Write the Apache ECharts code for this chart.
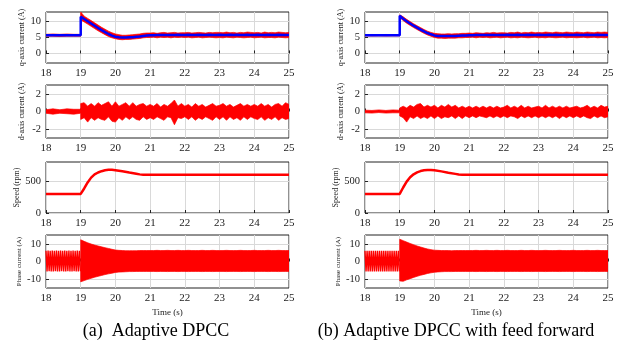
<!DOCTYPE html>
<html>
<head>
<meta charset="utf-8">
<script src="https://cdn.jsdelivr.net/npm/echarts@6/dist/echarts.min.js"></script>
<style>html,body{margin:0;padding:0;background:#fff}#c{width:622px;height:341px}</style>
</head>
<body>
<div id="c"></div>
<script>
// ---------- DATA ----------
var xTicks = [18, 19, 20, 21, 22, 23, 24, 25];
var qTicks = [0, 5, 10];
var dTicks = [-2, 0, 2];
var sTicks = [0, 500];
var pTicks = [-10, 0, 10];

var T = [18.0,18.2,18.4,18.6,18.8,19.0,
  19.0,19.1,19.2,19.3,19.4,19.5,19.6,19.7,19.8,19.9,
  20.0,20.1,20.2,20.3,20.4,20.5,20.6,20.7,20.8,20.9,
  21.0,21.1,21.2,21.3,21.4,21.5,21.6,21.7,21.8,21.9,
  22.0,22.1,22.2,22.3,22.4,22.5,22.6,22.7,22.8,22.9,
  23.0,23.1,23.2,23.3,23.4,23.5,23.6,23.7,23.8,23.9,
  24.0,24.1,24.2,24.3,24.4,24.5,24.6,24.7,24.8,24.9,
  25.0];

// (a) q-axis current: reference (blue) and measured band (red)
var qA_ref = [5.7,5.7,5.7,5.7,5.7,5.7,
  11.5,10.8,10.1,9.4,8.7,8.0,7.3,6.7,6.1,5.6,
  5.25,5.05,5.0,5.0,5.05,5.1,5.2,5.3,5.5,5.6,
  5.7,5.7,5.75,5.75,5.8,5.8,5.8,5.8,5.85,5.8,
  5.8,5.85,5.8,5.8,5.85,5.8,5.8,5.85,5.8,5.8,
  5.85,5.8,5.8,5.85,5.8,5.85,5.8,5.8,5.85,5.8,
  5.8,5.85,5.8,5.8,5.85,5.8,5.8,5.85,5.8,5.8,
  5.8];
var qA_hi = [6.0,6.1,6.0,6.1,6.0,6.0,
  13.0,11.7,11.0,10.3,9.6,8.9,8.2,7.6,7.0,6.5,
  6.1,5.9,5.7,5.7,5.8,5.9,6.0,6.1,6.3,6.4,
  6.4,6.5,6.3,6.5,6.6,6.4,6.5,6.6,6.4,6.5,
  6.5,6.6,6.4,6.5,6.6,6.5,6.4,6.6,6.5,6.6,
  6.6,6.5,6.7,6.5,6.6,6.4,6.6,6.5,6.7,6.6,
  6.5,6.6,6.4,6.7,6.5,6.6,6.5,6.7,6.6,6.5,
  6.6];
var qA_lo = [5.4,5.4,5.3,5.4,5.4,5.4,
  10.5,9.9,9.2,8.5,7.8,7.1,6.5,5.9,5.3,4.9,
  4.6,4.4,4.3,4.4,4.4,4.5,4.6,4.7,4.9,5.0,
  5.0,5.1,4.9,5.1,5.0,5.1,4.9,5.1,5.0,5.1,
  5.0,5.1,4.9,5.0,5.1,4.9,5.0,5.1,5.0,4.9,
  5.0,4.9,5.1,5.0,4.9,5.1,5.0,4.9,5.0,5.1,
  4.9,5.0,5.1,4.9,5.0,5.0,4.9,5.1,5.0,4.9,
  5.0];

// (b) q-axis current
var qB_ref = [5.7,5.7,5.7,5.7,5.7,5.7,
  11.8,10.9,10.1,9.4,8.7,8.1,7.5,6.9,6.4,6.0,
  5.65,5.5,5.45,5.45,5.45,5.5,5.5,5.55,5.6,5.65,
  5.7,5.7,5.75,5.75,5.8,5.8,5.8,5.8,5.8,5.8,
  5.8,5.85,5.8,5.8,5.85,5.8,5.8,5.85,5.8,5.8,
  5.85,5.8,5.8,5.85,5.8,5.85,5.8,5.8,5.85,5.8,
  5.8,5.85,5.8,5.8,5.85,5.8,5.8,5.85,5.8,5.8,
  5.8];
var qB_hi = [5.9,5.95,5.9,5.95,5.9,5.9,
  12.1,11.5,10.7,10.0,9.3,8.7,8.1,7.5,7.0,6.6,
  6.3,6.2,6.1,6.1,6.2,6.1,6.2,6.2,6.3,6.3,
  6.4,6.3,6.5,6.4,6.3,6.5,6.4,6.6,6.4,6.5,
  6.5,6.4,6.6,6.5,6.7,6.4,6.6,6.5,6.7,6.5,
  6.6,6.5,6.7,6.6,6.5,6.7,6.6,6.5,6.7,6.6,
  6.5,6.7,6.6,6.5,6.7,6.6,6.5,6.7,6.6,6.7,
  6.6];
var qB_lo = [5.5,5.45,5.5,5.45,5.5,5.5,
  11.3,10.3,9.5,8.8,8.1,7.5,6.9,6.3,5.8,5.4,
  5.0,4.8,4.8,4.7,4.8,4.8,4.8,4.9,4.9,5.0,
  5.0,5.1,4.9,5.1,5.0,5.1,4.9,5.0,5.1,4.9,
  5.0,5.1,4.9,5.0,4.9,5.1,5.0,4.9,5.0,5.1,
  4.9,5.0,4.9,5.1,5.0,4.9,5.0,5.1,4.9,5.0,
  5.0,4.9,5.0,5.1,4.9,5.0,5.1,4.9,5.0,4.9,
  5.0];

// d-axis current bands
var dA_hi = [0.2,0.3,0.2,0.3,0.25,0.25,
  0.9,1.0,0.6,0.9,0.6,1.0,0.7,0.9,1.1,0.6,
  1.1,0.6,0.8,1.0,0.6,1.0,0.6,0.8,0.9,0.6,
  0.8,0.6,0.9,0.5,0.8,0.6,0.9,1.3,0.6,0.9,
  0.6,0.8,0.5,0.9,0.6,0.8,0.5,0.7,0.9,0.6,
  0.7,0.9,0.6,0.8,0.5,0.7,0.9,0.6,0.8,0.6,
  0.8,0.6,0.9,0.6,0.8,0.5,0.8,0.9,0.6,1.0,
  0.8];
var dA_lo = [-0.2,-0.3,-0.2,-0.25,-0.3,-0.2,
  -0.9,-0.7,-1.2,-0.7,-1.0,-0.7,-0.9,-1.0,-0.6,-1.1,
  -1.2,-0.7,-1.0,-0.6,-0.9,-0.6,-0.9,-1.0,-0.6,-0.9,
  -0.7,-0.9,-0.6,-0.8,-1.0,-0.6,-0.7,-1.5,-0.7,-0.8,
  -0.6,-0.9,-0.6,-1.0,-0.7,-0.9,-0.6,-0.8,-1.0,-0.6,
  -0.9,-0.6,-1.0,-0.6,-0.9,-0.7,-1.0,-0.6,-0.9,-0.6,
  -0.8,-0.9,-0.6,-1.0,-0.7,-0.9,-0.6,-1.0,-0.7,-0.9,
  -0.8];
var dB_hi = [0.15,0.12,0.18,0.12,0.18,0.15,
  0.4,0.6,0.4,0.7,0.5,0.8,0.9,0.5,0.7,0.5,
  0.7,0.4,0.7,0.5,0.8,0.5,0.7,0.4,0.6,0.4,
  0.6,0.4,0.6,0.4,0.6,0.4,0.6,0.4,0.6,0.4,
  0.5,0.7,0.4,0.6,0.4,0.7,0.4,0.6,0.4,0.5,
  0.6,0.4,0.7,0.4,0.6,0.4,0.6,0.4,0.6,0.4,
  0.5,0.6,0.4,0.5,0.7,0.4,0.6,0.4,0.7,0.5,
  0.6];
var dB_lo = [-0.15,-0.18,-0.12,-0.18,-0.15,-0.15,
  -0.5,-0.7,-1.2,-0.6,-0.8,-0.5,-0.8,-0.6,-0.8,-0.5,
  -0.8,-0.5,-0.8,-0.6,-0.7,-0.5,-0.8,-0.5,-0.8,-0.5,
  -0.7,-0.5,-0.7,-0.5,-0.6,-0.7,-0.5,-0.7,-0.5,-0.7,
  -0.5,-0.7,-0.5,-0.6,-0.8,-0.5,-0.7,-0.5,-0.7,-0.5,
  -0.7,-0.5,-0.7,-0.5,-0.7,-0.5,-0.8,-0.5,-0.7,-0.5,
  -0.7,-0.5,-0.7,-0.5,-0.7,-0.8,-0.5,-0.7,-0.5,-0.7,
  -0.6];

// Speed (rpm)
var tS = [18, 19, 19.1, 19.2, 19.3, 19.4, 19.5, 19.6, 19.7, 19.8, 19.9, 20.0, 20.2, 20.4, 20.6, 20.7, 20.8, 25];
var spA = [300, 300, 385, 480, 555, 605, 635, 656, 670, 677, 677, 672, 656, 636, 617, 606, 600, 600];
var spB = [300, 300, 400, 492, 560, 607, 638, 658, 670, 676, 675, 669, 653, 633, 614, 604, 600, 600];

// Phase current: oscillation before the step, envelope after it
var tZ = [18.00,18.03,18.06,18.09,18.12,18.15,18.18,18.21,18.24,18.27,18.30,18.33,18.36,18.39,18.42,18.45,18.48,
  18.51,18.54,18.57,18.60,18.63,18.66,18.69,18.72,18.75,18.78,18.81,18.84,18.87,18.90,18.93,18.96,18.99];
var zA = [6.1,-5.6,6.2,-5.5,6.1,-5.6,6.2,-5.6,6.1,-5.5,6.2,-5.6,6.1,-5.6,6.2,-5.5,6.1,
  -5.6,6.2,-5.6,6.1,-5.5,6.2,-5.6,6.1,-5.6,6.2,-5.5,6.1,-5.6,6.2,-5.6,6.1,-5.5];
var zB = [6.0,-5.7,6.1,-5.6,6.0,-5.7,6.1,-5.7,6.0,-5.6,6.1,-5.7,6.0,-5.7,6.1,-5.6,6.0,
  -5.7,6.1,-5.7,6.0,-5.6,6.1,-5.7,6.0,-5.7,6.1,-5.6,6.0,-5.7,6.1,-5.7,6.0,-5.6];
var pA_hi = [12.3,11.4,10.6,9.9,9.3,8.8,8.3,7.8,7.4,6.9,
  6.5,6.3,6.2,6.1,6.1,6.1,6.1,6.2,6.2,6.2,
  6.2,6.2,6.3,6.2,6.2,6.3,6.2,6.2,6.3,6.2,
  6.2,6.3,6.2,6.2,6.2,6.3,6.2,6.2,6.3,6.2,
  6.2,6.2,6.3,6.2,6.2,6.2,6.3,6.2,6.2,6.2,
  6.3,6.2,6.2,6.2,6.3,6.2,6.2,6.3,6.2,6.2,
  6.2];
var pA_lo = [-11.5,-10.8,-10.1,-9.5,-8.9,-8.4,-7.9,-7.4,-7.0,-6.6,
  -6.2,-6.0,-5.9,-5.8,-5.7,-5.7,-5.6,-5.6,-5.6,-5.6,
  -5.6,-5.6,-5.7,-5.6,-5.6,-5.7,-5.6,-5.6,-5.7,-5.6,
  -5.6,-5.7,-5.6,-5.6,-5.6,-5.7,-5.6,-5.6,-5.7,-5.6,
  -5.6,-5.6,-5.7,-5.6,-5.6,-5.6,-5.7,-5.6,-5.6,-5.6,
  -5.7,-5.6,-5.6,-5.6,-5.7,-5.6,-5.6,-5.7,-5.6,-5.6,
  -5.6];
var pB_hi = [12.6,11.8,11.0,10.2,9.5,8.8,8.2,7.6,7.1,6.7,
  6.4,6.3,6.2,6.2,6.2,6.1,6.2,6.2,6.2,6.2,
  6.2,6.2,6.3,6.2,6.2,6.3,6.2,6.2,6.3,6.2,
  6.2,6.3,6.2,6.2,6.2,6.3,6.2,6.2,6.3,6.2,
  6.2,6.2,6.3,6.2,6.2,6.2,6.3,6.2,6.2,6.2,
  6.3,6.2,6.2,6.2,6.3,6.2,6.2,6.3,6.2,6.2,
  6.2];
var pB_lo = [-11.0,-11.2,-10.4,-9.7,-9.0,-8.4,-7.8,-7.3,-6.8,-6.4,
  -6.1,-5.9,-5.8,-5.7,-5.7,-5.7,-5.6,-5.6,-5.6,-5.6,
  -5.6,-5.6,-5.7,-5.6,-5.6,-5.7,-5.6,-5.6,-5.7,-5.6,
  -5.6,-5.7,-5.6,-5.6,-5.6,-5.7,-5.6,-5.6,-5.7,-5.6,
  -5.6,-5.6,-5.7,-5.6,-5.6,-5.6,-5.7,-5.6,-5.6,-5.6,
  -5.7,-5.6,-5.6,-5.6,-5.7,-5.6,-5.6,-5.7,-5.6,-5.6,
  -5.6];

var captionA = '(a)  Adaptive DPCC';
var captionB = '(b) Adaptive DPCC with feed forward';
// ---------- CHART ----------
var FONT = 'Liberation Serif, Times New Roman, serif';
var RED = '#ff0000', BLUE = '#0000ff';
var colLeft = [46, 365];
var rows = [{top: 12, h: 51}, {top: 85, h: 53}, {top: 162, h: 51}, {top: 235, h: 53}];
var grids = [], xAxes = [], yAxes = [], series = [];
var yDefs = [
  {min: -3, max: 13, ticks: qTicks, name: 'q-axis current (A)', ns: 8},
  {min: -3, max: 3, ticks: dTicks, name: 'd-axis current (A)', ns: 8},
  {min: 0, max: 800, ticks: sTicks, name: 'Speed (rpm)', ns: 8},
  {min: -15, max: 15, ticks: pTicks, name: 'Phase current (A)', ns: 7}
];
for (var c = 0; c < 2; c++) {
  for (var r = 0; r < 4; r++) {
    var gi = c * 4 + r;
    grids.push({left: colLeft[c], top: rows[r].top, width: 243, height: rows[r].h,
      show: true, borderColor: '#222', borderWidth: 1, backgroundColor: 'transparent'});
    xAxes.push({type: 'value', gridIndex: gi, min: 18, max: 25, interval: 1,
      axisLine: {show: false},
      axisTick: {show: true, inside: true, length: 3, lineStyle: {color: '#222'}},
      axisLabel: {fontFamily: FONT, fontSize: 11, color: '#222', margin: 5},
      splitLine: {show: true, lineStyle: {color: '#d9d9d9', width: 1}},
      name: r === 3 ? 'Time (s)' : '', nameLocation: 'middle', nameGap: 20,
      nameTextStyle: {fontFamily: FONT, fontSize: 9, color: '#222'}});
    var yd = yDefs[r];
    yAxes.push({type: 'value', gridIndex: gi, min: yd.min, max: yd.max,
      axisLine: {show: false},
      axisTick: {show: true, inside: true, length: 3, customValues: yd.ticks, lineStyle: {color: '#222'}},
      axisLabel: {customValues: yd.ticks, fontFamily: FONT, fontSize: 10.5, color: '#222', margin: 5},
      splitLine: {show: true, lineStyle: {color: '#d9d9d9', width: 1}},
      name: yd.name, nameLocation: 'middle', nameGap: 20,
      nameTextStyle: {fontFamily: FONT, fontSize: yd.ns, color: '#222'}});
  }
}
function pairs(t, v) { return t.map(function (x, i) { return [x, v[i]]; }); }
// filled band between lo and hi, drawn as one polygon through the axis scales
function band(gi, t, lo, hi) {
  return {type: 'custom', xAxisIndex: gi, yAxisIndex: gi, data: pairs(t, lo),
    encode: {x: 0, y: 1}, clip: true, silent: true, animation: false,
    renderItem: function (params, api) {
      if (params.dataIndex !== 0) return null;
      var pts = [], i;
      for (i = 0; i < t.length; i++) pts.push(api.coord([t[i], hi[i]]));
      for (i = t.length - 1; i >= 0; i--) pts.push(api.coord([t[i], lo[i]]));
      return {type: 'polygon', shape: {points: pts},
        style: {fill: RED, stroke: RED, lineWidth: 0.7}};
    }};
}
function line(gi, t, v, color, w) {
  return {type: 'line', xAxisIndex: gi, yAxisIndex: gi, data: pairs(t, v), symbol: 'none',
    lineStyle: {width: w, color: color}, silent: true, animation: false};
}
var Tpost = T.slice(6);
// column (a)
series.push(band(0, T, qA_lo, qA_hi));
series.push(line(0, T, qA_ref, BLUE, 2.5));
series.push(band(1, T, dA_lo, dA_hi));
series.push(line(2, tS, spA, RED, 2.5));
series.push(line(3, tZ, zA, RED, 1.4));
series.push(band(3, Tpost, pA_lo, pA_hi));
// column (b)
series.push(band(4, T, qB_lo, qB_hi));
series.push(line(4, T, qB_ref, BLUE, 2.5));
series.push(band(5, T, dB_lo, dB_hi));
series.push(line(6, tS, spB, RED, 2.5));
series.push(line(7, tZ, zB, RED, 1.4));
series.push(band(7, Tpost, pB_lo, pB_hi));

var chart = echarts.init(document.getElementById('c'), null, {renderer: 'canvas'});
chart.setOption({
  animation: false,
  backgroundColor: '#fff',
  grid: grids, xAxis: xAxes, yAxis: yAxes, series: series,
  graphic: [
    {type: 'text', x: 156, y: 331, style: {text: captionA, font: '18px ' + FONT, fill: '#000', textAlign: 'center', textVerticalAlign: 'middle'}},
    {type: 'text', x: 456, y: 331, style: {text: captionB, font: '18px ' + FONT, fill: '#000', textAlign: 'center', textVerticalAlign: 'middle'}}
  ]
});
</script>
</body>
</html>
